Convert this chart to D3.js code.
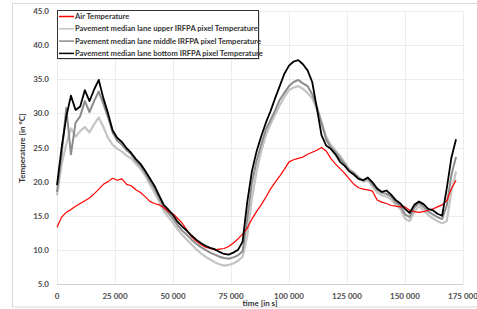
<!DOCTYPE html>
<html>
<head>
<meta charset="utf-8">
<script src="https://cdn.jsdelivr.net/npm/d3@7"></script>
<style>
  body { margin: 0; background: #fff; }
  svg { display: block; font-family: Lato, "Open Sans", "Liberation Sans", sans-serif; }
</style>
</head>
<body>
<svg id="chart" width="477" height="309"></svg>
<script>
// sample times in 1000 s
const timeK = [0, 2, 4, 6, 8, 10, 12, 14, 16, 18, 20, 22, 24, 26, 28, 30, 32, 34, 36, 38,
  40, 42, 44, 46, 48, 50, 52, 54, 56, 58, 60, 62, 64, 66, 68, 70, 72, 74, 76, 78,
  80, 82, 84, 86, 88, 90, 92, 94, 96, 98, 100, 102, 104, 106, 108, 110, 112, 114, 116, 118,
  120, 122, 124, 126, 128, 130, 132, 134, 136, 138, 140, 142, 144, 146, 148, 150, 152, 154, 156, 158,
  160, 162, 164, 166, 168, 170, 172];

const airTemp = [13.3, 14.8, 15.5, 15.9, 16.4, 16.8, 17.2, 17.6, 18.2, 18.9, 19.6, 20.0, 20.5, 20.2, 20.4, 19.6, 19.4, 18.8, 18.4, 17.8,
  17.1, 16.8, 16.6, 16.2, 15.6, 15.3, 14.6, 13.9, 12.9, 11.9, 11.3, 10.8, 10.4, 10.2, 10.0, 10.1, 10.2, 10.5, 11.0, 11.6,
  12.3, 13.2, 14.5, 15.6, 16.6, 17.7, 18.9, 19.9, 20.8, 21.8, 22.9, 23.2, 23.4, 23.6, 24.0, 24.3, 24.6, 25.0, 24.5, 23.4,
  22.6, 21.9, 21.2, 20.4, 19.6, 19.1, 18.9, 18.8, 18.6, 17.3, 17.0, 16.8, 16.5, 16.4, 16.3, 16.3, 15.8, 15.6, 15.5, 15.6,
  15.8, 16.0, 16.3, 16.6, 17.2, 19.0, 20.2];

const upperTemp = [18.0, 22.5, 25.5, 27.8, 26.6, 27.4, 28.0, 27.2, 28.4, 29.4, 28.0, 26.4, 25.4, 24.8, 24.4, 23.8, 23.4, 22.6, 21.9, 20.9,
  19.6, 18.4, 17.1, 15.7, 14.8, 14.0, 13.0, 12.2, 11.5, 10.8, 10.1, 9.5, 9.0, 8.6, 8.2, 7.9, 7.7, 7.8, 8.0, 8.4,
  9.0, 12.0, 17.5, 21.4, 24.4, 26.8, 28.4, 29.8, 31.2, 32.4, 33.4, 33.8, 34.0, 33.6, 33.0, 32.2, 30.6, 28.8, 26.6, 25.4,
  24.6, 23.8, 22.8, 21.8, 21.2, 20.4, 20.0, 20.2, 19.3, 18.4, 18.0, 17.8, 17.4, 16.6, 16.0, 14.6, 14.2, 15.6, 16.4, 15.8,
  15.1, 14.6, 14.2, 13.9, 14.2, 18.5, 21.5];

const middleTemp = [18.5, 24.0, 30.8, 24.0, 28.6, 29.6, 31.8, 30.2, 31.8, 33.2, 31.4, 29.4, 27.2, 26.0, 25.4, 24.6, 24.0, 23.0, 22.3, 21.3,
  20.1, 19.0, 17.6, 16.2, 15.4, 14.6, 13.6, 12.8, 12.2, 11.5, 10.9, 10.4, 10.0, 9.6, 9.3, 9.0, 8.8, 8.7, 8.9, 9.2,
  9.8, 14.5, 19.8, 23.0, 25.4, 27.6, 29.0, 30.4, 32.0, 33.0, 34.0, 34.6, 34.9, 34.4, 34.0, 32.8, 31.0, 28.6, 26.2, 25.0,
  24.3, 23.4, 22.6, 21.6, 21.3, 20.6, 20.2, 20.5, 19.6, 18.8, 18.4, 18.2, 17.8, 17.0, 16.5, 15.2, 14.8, 16.2, 16.9, 16.3,
  15.6, 15.2, 14.8, 14.5, 16.5, 21.0, 23.6];

const bottomTemp = [19.5, 25.0, 29.5, 32.6, 30.5, 31.0, 33.4, 31.8, 33.5, 34.9, 32.2, 30.0, 27.5, 26.4, 25.8, 24.9, 24.2, 23.3, 22.6, 21.6,
  20.5, 19.4, 18.0, 16.6, 15.9, 15.1, 14.1, 13.4, 12.8, 12.1, 11.5, 11.0, 10.6, 10.3, 10.1, 9.7, 9.4, 9.3, 9.6, 10.0,
  11.2, 17.0, 21.5, 24.4, 26.6, 28.6, 30.3, 32.2, 34.0, 35.8, 37.0, 37.6, 37.8, 37.2, 36.3, 34.6, 30.8, 26.8, 25.3, 24.8,
  24.0, 22.9, 22.3, 21.5, 21.0, 20.4, 20.2, 20.6, 19.9, 19.0, 18.5, 18.7, 18.1, 17.3, 16.8, 16.0, 15.4, 16.6, 17.1, 16.7,
  16.0, 15.8, 15.3, 15.0, 19.0, 23.5, 26.2];

const seriesNames = [
  'Air Temperature',
  'Pavement  median lane upper IRFPA pixel Temperature',
  'Pavement median lane middle IRFPA pixel Temperature',
  'Pavement  median lane bottom IRFPA pixel Temperature'
];
const seriesColors = ['#ff0000', '#c4c4c4', '#8c8c8c', '#000000'];
const seriesValues = [airTemp, upperTemp, middleTemp, bottomTemp];

const xTicks = [0, 25000, 50000, 75000, 100000, 125000, 150000, 175000];
const yTicks = [5, 10, 15, 20, 25, 30, 35, 40, 45];

const svg = d3.select('#chart');

// outer chart frame
svg.append('rect')
  .attr('x', 12.5).attr('y', 3.5)
  .attr('width', 470).attr('height', 303.5)
  .attr('fill', 'none')
  .attr('stroke', '#d9d9d9');

const x = d3.scaleLinear().domain([0, 175000]).range([57, 463]);
const y = d3.scaleLinear().domain([5, 45]).range([284, 11]);

// grid
svg.append('g').selectAll('line').data(yTicks).join('line')
  .attr('x1', 57).attr('x2', 463)
  .attr('y1', d => Math.round(y(d)) + 0.5).attr('y2', d => Math.round(y(d)) + 0.5)
  .attr('stroke', d => d === 5 ? '#d0d0d0' : '#ececec');

svg.append('g').selectAll('line').data(xTicks).join('line')
  .attr('x1', d => Math.round(x(d)) + 0.5).attr('x2', d => Math.round(x(d)) + 0.5)
  .attr('y1', 11).attr('y2', 284)
  .attr('stroke', '#ececec');

// tick labels
const fmt = d => d === 0 ? '0' : d3.format(',')(d).replace(',', ' ');
svg.append('g').selectAll('text').data(xTicks).join('text')
  .attr('x', d => x(d)).attr('y', 299)
  .attr('text-anchor', 'middle')
  .attr('font-size', 8).attr('font-weight', 'bold').attr('fill', '#4d4d4d')
  .text(fmt);

svg.append('g').selectAll('text').data(yTicks).join('text')
  .attr('x', 49).attr('y', d => y(d) + 3)
  .attr('text-anchor', 'end')
  .attr('font-size', 8).attr('font-weight', 'bold').attr('fill', '#4d4d4d')
  .text(d => d.toFixed(1));

// axis titles
svg.append('text')
  .attr('x', 260).attr('y', 306)
  .attr('text-anchor', 'middle')
  .attr('font-size', 8).attr('font-weight', 'bold').attr('fill', '#333')
  .text('time [in s]');

svg.append('text')
  .attr('transform', 'translate(25,148) rotate(-90)')
  .attr('text-anchor', 'middle')
  .attr('font-size', 8).attr('font-weight', 'bold').attr('fill', '#333')
  .text('Temperature [in °C]');

// lines, drawn lighter first so black sits on top
const line = vals => d3.line()
  .x((d, i) => x(timeK[i] * 1000))
  .y(d => y(d))(vals);

const drawOrder = [1, 2, 0, 3];
const widths = [1.2, 2.2, 2.0, 1.8];
drawOrder.forEach(k => {
  svg.append('path')
    .attr('d', line(seriesValues[k]))
    .attr('fill', 'none')
    .attr('stroke', seriesColors[k])
    .attr('stroke-width', widths[k])
    .attr('stroke-linejoin', 'round');
});

// legend
const legend = svg.append('g').attr('transform', 'translate(57,10)');
legend.append('rect')
  .attr('x', 1.5).attr('y', 1.5).attr('width', 201).attr('height', 48)
  .attr('fill', '#bbb');
legend.append('rect')
  .attr('x', 0.5).attr('y', 0.5).attr('width', 201).attr('height', 48)
  .attr('fill', '#fff').attr('stroke', '#333');

seriesNames.forEach((name, i) => {
  const ly = 6.5 + i * 12.3;
  legend.append('line')
    .attr('x1', 2).attr('x2', 17)
    .attr('y1', ly).attr('y2', ly)
    .attr('stroke', seriesColors[i])
    .attr('stroke-width', 1.5);
  legend.append('text')
    .attr('x', 18).attr('y', ly + 2.6)
    .attr('font-size', 7.6).attr('font-weight', 'bold').attr('fill', '#333')
    .text(name);
});
</script>
</body>
</html>
